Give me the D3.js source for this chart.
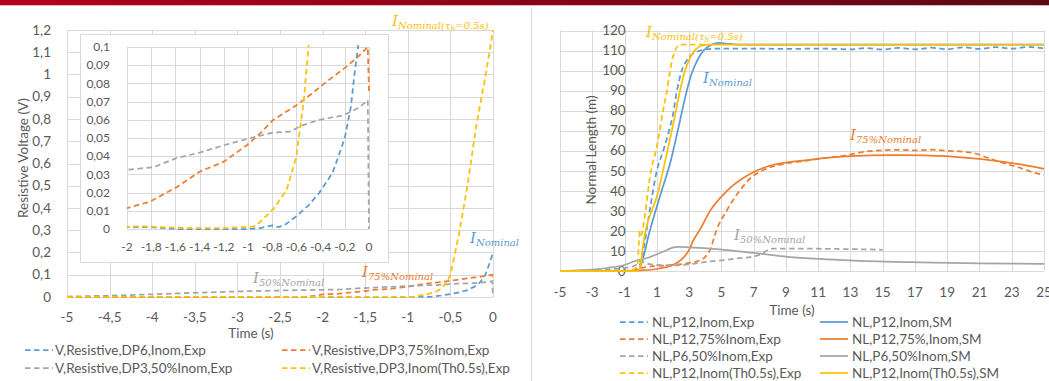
<!DOCTYPE html>
<html><head><meta charset="utf-8">
<script src="https://cdn.jsdelivr.net/npm/d3@7"></script>
<style>
body{margin:0;background:#fff;overflow:hidden;}
svg{display:block;font-family:Lato,"Open Sans",sans-serif;}
</style></head><body>
<svg id="c" width="1049" height="381"></svg>
<script>
// ---------------- DATA ----------------
// Left chart (resistive voltage), tick values
const leftXTicks = [-5,-4.5,-4,-3.5,-3,-2.5,-2,-1.5,-1,-0.5,0];
const leftYTicks = [0,0.1,0.2,0.3,0.4,0.5,0.6,0.7,0.8,0.9,1,1.1,1.2];
const insetXTicks = [-2,-1.8,-1.6,-1.4,-1.2,-1,-0.8,-0.6,-0.4,-0.2,0];
const insetYTicks = [0,0.01,0.02,0.03,0.04,0.05,0.06,0.07,0.08,0.09,0.1];
const leftNames = ["V,Resistive,DP6,Inom,Exp","V,Resistive,DP3,75%Inom,Exp","V,Resistive,DP3,50%Inom,Exp","V,Resistive,DP3,Inom(Th0.5s),Exp"];
// [time s, voltage V]
const vDP6Inom = [[-5,0],[-4,0],[-3,0],[-2,0.001],[-1.8,0.001],[-1.6,0],[-1,0],[-0.9,0.0005],[-0.8,0.002],[-0.75,0.001],[-0.7,0.002],[-0.6,0.007],[-0.5,0.013],[-0.41,0.02],[-0.3,0.031],[-0.2,0.05],[-0.15,0.067],[-0.12,0.085],[-0.09,0.1],[-0.035,0.157],[0,0.2]];
const vDP3_75 = [[-5,0],[-3,0],[-2.2,0],[-2.1,0.005],[-2,0.0115],[-1.81,0.015],[-1.59,0.023],[-1.4,0.0315],[-1.2,0.037],[-1.01,0.046],[-0.9,0.0525],[-0.79,0.06],[-0.6,0.068],[-0.46,0.075],[-0.35,0.081],[-0.21,0.088],[-0.1,0.094],[-0.01,0.1],[0,0.075]];
const vDP3_50 = [[-5,0.002],[-4.5,0.006],[-4,0.012],[-3.5,0.019],[-3,0.025],[-2.5,0.029],[-2,0.0325],[-1.78,0.034],[-1.59,0.039],[-1.4,0.042],[-1.2,0.046],[-0.98,0.05],[-0.79,0.053],[-0.65,0.0535],[-0.57,0.0565],[-0.41,0.06],[-0.21,0.0625],[-0.08,0.0668],[-0.01,0.0708],[0,0]];
const vDP3_Th = [[-5,0],[-2,0.001],[-1.9,0.0015],[-1.5,0.0005],[-1.2,0.0005],[-1.05,0.001],[-0.98,0.001],[-0.93,0.002],[-0.79,0.011],[-0.68,0.0215],[-0.6,0.04],[-0.54,0.07],[-0.5,0.1],[-0.45,0.19],[-0.4,0.28],[-0.3,0.5],[-0.2,0.76],[-0.1,0.97],[-0.05,1.08],[0,1.2]];

// Right chart (normal length)
const rightXTicks = [-5,-3,-1,1,3,5,7,9,11,13,15,17,19,21,23,25];
const rightYTicks = [0,10,20,30,40,50,60,70,80,90,100,110,120];
const rightNames = ["NL,P12,Inom,Exp","NL,P12,Inom,SM","NL,P12,75%Inom,Exp","NL,P12,75%,Inom,SM","NL,P6,50%Inom,Exp","NL,P6,50%Inom,SM","NL,P12,Inom(Th0.5s),Exp","NL,P12,Inom(Th0.5s),SM"];
// [time s, length m]
const nlInomExp = [[-5,0],[-2,0],[-1,0.2],[-0.3,1],[0,4],[0.2,12],[0.6,32],[1.0,50],[1.4,60],[1.76,70],[2.0,78],[2.25,90],[2.55,100],[2.85,105],[3.1,107.5],[3.5,109.5],[4,110.5],[5,111],[7,111],[9,110.8],[11,111],[13,110.6],[14,111.2],[15,110.5],[16,111.3],[17,110.6],[18,111.4],[19,110.7],[20,111.6],[21,110.8],[22,111.7],[23,110.9],[24,111.8],[25,111]];
const nlInomSM = [[-5,0],[-1,0],[-0.15,0.3],[0.1,5],[0.5,18],[1.3,40],[1.8,53],[2.3,70],[2.8,88],[3.1,97],[3.5,105],[3.9,110],[4.3,112.5],[4.8,113.8],[5.3,113.5],[6,113],[25,113]];
const nl75Exp = [[-5,0],[-1,0],[-0.4,0.5],[0,1.5],[0.4,2],[1,2.5],[2,3],[3,4],[3.7,5.4],[4.0,7],[4.3,10.5],[4.7,20.4],[5.35,30.4],[6.16,40.3],[6.9,47],[7.5,50],[8.6,53],[10,54.8],[11.1,56],[12.8,57.8],[13.8,59.4],[14.5,60],[16,60.5],[17,60.2],[18,60.5],[19,60],[20,59.5],[20.8,58.5],[21.5,56.5],[22.5,53.8],[23.5,51.5],[24.5,48.8],[25,48]];
const nl75SM = [[-5,0],[-1,0],[0,0.3],[1,1],[1.5,1.8],[2,3],[2.5,5.5],[3,10.5],[3.25,15],[3.7,21],[4.3,30],[5.35,40],[6.8,48.5],[8,52.5],[10.5,55.5],[13,57.3],[15.5,57.8],[17.5,57.7],[19.5,57],[22.5,54.5],[25,51]];
const nl50Exp = [[-5,0],[-3,0.5],[-1,1.5],[-0.3,3],[0,5],[0.3,4],[1,3],[2,2.8],[3,3.3],[4.1,4.6],[5,5.3],[6,6.3],[7,7.3],[7.5,8.5],[7.9,10.5],[8.2,11.2],[10,11.2],[12,11],[14,10.8],[15,10.6]];
const nl50SM = [[-5,0],[-3.5,0.4],[-2.1,1.5],[-1,3],[-0.47,4.6],[0.58,7],[1.2,9],[1.63,10.5],[2,11.7],[2.25,12],[3,11.8],[4.9,10.8],[7,9],[9.1,7.1],[11.1,6],[13.2,5.2],[17.3,4.3],[21,3.8],[25,3.5]];
const nlThExp = [[-5,0],[-1,0],[-0.5,0.5],[-0.2,3],[-0.1,15],[-0.05,20],[0.05,18],[0.15,22],[0.64,50],[1.0,62],[1.39,80],[1.63,90],[1.82,100],[2.13,110],[2.44,113],[4,113]];
const nlThSM = [[-5,0],[-1,0],[-0.2,0],[0,3],[0.1,10],[1.1,40],[1.93,70],[2.75,100],[3.1,107],[3.4,110.5],[3.8,112.5],[4.2,113],[25,113]];

// ---------------- STYLE ----------------
const C = {blue:"#5B9BD5", orange:"#ED7D31", gray:"#A5A5A5", yellow:"#FFC000", grid:"#D9D9D9", text:"#595959"};
const DASH = "5.5,3.5";
const FS = "13.5px";
const fmt = d3.formatLocale({decimal:",",thousands:".",grouping:[3],currency:["","€"],minus:"-"}).format("~g");

const svg = d3.select("#c");
// header bar
const defs = svg.append("defs");
const g1 = defs.append("linearGradient").attr("id","hdr");
g1.append("stop").attr("offset","0%").attr("stop-color","#B5001C");
g1.append("stop").attr("offset","100%").attr("stop-color","#5A0A14");
svg.append("rect").attr("x",0).attr("y",0).attr("width",1049).attr("height",5).attr("fill","url(#hdr)");
svg.append("line").attr("x1",0).attr("x2",1049).attr("y1",5.5).attr("y2",5.5).attr("stroke","#E2B3B9").attr("stroke-width",1);
svg.append("line").attr("x1",531.5).attr("x2",531.5).attr("y1",7).attr("y2",381).attr("stroke",C.grid);

function clip(id,x,y,w,h){defs.append("clipPath").attr("id",id).append("rect").attr("x",x).attr("y",y).attr("width",w).attr("height",h);}

function grid(g, x, y, xt, yt){
  g.append("g").selectAll("line").data(xt).join("line")
    .attr("x1",d=>Math.round(x(d))+0.5).attr("x2",d=>Math.round(x(d))+0.5)
    .attr("y1",y.range()[0]).attr("y2",y.range()[1]).attr("stroke",C.grid);
  g.append("g").selectAll("line").data(yt).join("line")
    .attr("y1",d=>Math.round(y(d))+0.5).attr("y2",d=>Math.round(y(d))+0.5)
    .attr("x1",x.range()[0]).attr("x2",x.range()[1]).attr("stroke",C.grid);
}

function annot(g, x, y, color, main, sub, subsub, rest){
  const t = g.append("text").attr("x",x).attr("y",y).attr("fill",color)
    .style("font-family","'DejaVu Serif',serif").style("font-style","italic");
  t.append("tspan").style("font-size","15px").text(main);
  t.append("tspan").style("font-size","10px").attr("dy",3).text(sub);
  if(subsub){
    t.append("tspan").style("font-size","7.5px").attr("dy",2).text(subsub);
    t.append("tspan").style("font-size","10px").attr("dy",-2).text(rest);
  }
}

// ---------------- LEFT CHART ----------------
const L = {x0:67, x1:493, y0:297, y1:30};
const lx = d3.scaleLinear().domain([-5,0]).range([L.x0,L.x1]);
const ly = d3.scaleLinear().domain([0,1.2]).range([L.y0,L.y1]);
const lg = svg.append("g");
grid(lg, lx, ly, leftXTicks, leftYTicks);
lg.append("g").selectAll("text").data(leftYTicks).join("text")
  .attr("x",L.x0-16).attr("y",d=>ly(d)).attr("dy","0.35em").attr("text-anchor","end")
  .attr("fill",C.text).style("font-size",FS).text(d=>fmt(d));
lg.append("g").selectAll("text").data(leftXTicks).join("text")
  .attr("x",d=>lx(d)).attr("y",L.y0+20).attr("dy","0.35em").attr("text-anchor","middle")
  .attr("fill",C.text).style("font-size",FS).text(d=>fmt(d));
lg.append("text").attr("x",251).attr("y",333).attr("dy","0.35em").attr("text-anchor","middle")
  .attr("fill",C.text).style("font-size",FS).text("Time (s)");
lg.append("text").attr("transform","translate(23,158) rotate(-90)").attr("dy","0.35em").attr("text-anchor","middle")
  .attr("fill",C.text).style("font-size",FS).text("Resistive Voltage (V)");

const leftSeries = [vDP6Inom, vDP3_75, vDP3_50, vDP3_Th];
const leftColors = [C.blue, C.orange, C.gray, C.yellow];
clip("clipL", L.x0, L.y1-4, L.x1-L.x0+4, L.y0-L.y1+6);
const lineL = d3.line().x(d=>lx(d[0])).y(d=>ly(d[1]));
lg.append("g").attr("clip-path","url(#clipL)").selectAll("path").data(leftSeries).join("path")
  .attr("d",lineL).attr("fill","none").attr("stroke",(d,i)=>leftColors[i]).attr("stroke-width",1.75).attr("stroke-dasharray",DASH);

// inset
const I = {bx:80, by:34, bw:308, bh:228, x0:127, x1:369, y0:229, y1:47};
lg.append("rect").attr("x",I.bx+0.5).attr("y",I.by+0.5).attr("width",I.bw).attr("height",I.bh).attr("fill","#fff").attr("stroke",C.grid);
const ix = d3.scaleLinear().domain([-2,0]).range([I.x0,I.x1]);
const iy = d3.scaleLinear().domain([0,0.1]).range([I.y0,I.y1]);
const ig = lg.append("g");
grid(ig, ix, iy, insetXTicks, insetYTicks);
ig.append("g").selectAll("text").data(insetYTicks).join("text")
  .attr("x",I.x0-17).attr("y",d=>iy(d)).attr("dy","0.35em").attr("text-anchor","end")
  .attr("fill",C.text).style("font-size","12px").text(d=>fmt(d));
ig.append("g").selectAll("text").data(insetXTicks).join("text")
  .attr("x",d=>ix(d)).attr("y",I.y0+18).attr("dy","0.35em").attr("text-anchor","middle")
  .attr("fill",C.text).style("font-size","12px").text(d=>fmt(d));
clip("clipI", I.x0, I.y1-2, I.x1-I.x0+2, I.y0-I.y1+3);
const lineI = d3.line().x(d=>ix(d[0])).y(d=>iy(d[1]));
ig.append("g").attr("clip-path","url(#clipI)").selectAll("path").data(leftSeries).join("path")
  .attr("d",lineI).attr("fill","none").attr("stroke",(d,i)=>leftColors[i]).attr("stroke-width",1.75).attr("stroke-dasharray",DASH);

// left legend
const leftLegPos = [[25,350],[282,350],[25,368],[282,368]];
leftNames.forEach((n,i)=>{
  const [px,py] = leftLegPos[i];
  lg.append("line").attr("x1",px).attr("x2",px+28).attr("y1",py).attr("y2",py).attr("stroke",leftColors[i]).attr("stroke-width",1.75).attr("stroke-dasharray",DASH);
  lg.append("text").attr("x",px+30).attr("y",py).attr("dy","0.35em").attr("fill",C.text).style("font-size",FS).text(n);
});
// left annotations
annot(lg, 392, 26, C.yellow, "I", "Nominal(τ", "h", "=0.5s)");
annot(lg, 470, 243, C.blue, "I", "Nominal");
annot(lg, 362, 277, C.orange, "I", "75%Nominal");
annot(lg, 253, 283, C.gray, "I", "50%Nominal");

// ---------------- RIGHT CHART ----------------
const R = {x0:560, x1:1044, y0:271, y1:30.5};
const rx = d3.scaleLinear().domain([-5,25]).range([R.x0,R.x1]);
const ry = d3.scaleLinear().domain([0,120]).range([R.y0,R.y1]);
const rg = svg.append("g");
grid(rg, rx, ry, rightXTicks, rightYTicks);
rg.append("g").selectAll("text").data(rightYTicks).join("text")
  .attr("x",rx(0)-15).attr("y",d=>ry(d)).attr("dy","0.35em").attr("text-anchor","end")
  .attr("fill",C.text).style("font-size",FS).text(d=>fmt(d));
rg.append("g").selectAll("text").data(rightXTicks).join("text")
  .attr("x",d=>rx(d)).attr("y",R.y0+21).attr("dy","0.35em").attr("text-anchor","middle")
  .attr("fill",C.text).style("font-size",FS).text(d=>fmt(d));
rg.append("text").attr("x",792).attr("y",310).attr("dy","0.35em").attr("text-anchor","middle")
  .attr("fill",C.text).style("font-size",FS).text("Time (s)");
rg.append("text").attr("transform","translate(591,150) rotate(-90)").attr("dy","0.35em").attr("text-anchor","middle")
  .attr("fill",C.text).style("font-size",FS).text("Normal Length (m)");

const rightSeries = [nlInomExp, nlInomSM, nl75Exp, nl75SM, nl50Exp, nl50SM, nlThExp, nlThSM];
const rightColors = [C.blue,C.blue,C.orange,C.orange,C.gray,C.gray,C.yellow,C.yellow];
const rightDashed = [true,false,true,false,true,false,true,false];
clip("clipR", R.x0, R.y1-4, R.x1-R.x0+6, R.y0-R.y1+6);
const lineR = d3.line().curve(d3.curveMonotoneX).x(d=>rx(d[0])).y(d=>ry(d[1]));
rg.append("g").attr("clip-path","url(#clipR)").selectAll("path").data(rightSeries).join("path")
  .attr("d",lineR).attr("fill","none").attr("stroke",(d,i)=>rightColors[i])
  .attr("stroke-width",1.75)
  .attr("stroke-dasharray",(d,i)=>rightDashed[i]?DASH:null);

const rLegRows = [322,339,356,373];
rightNames.forEach((n,i)=>{
  const px = i%2===0 ? 620 : 820, py = rLegRows[Math.floor(i/2)];
  rg.append("line").attr("x1",px).attr("x2",px+28).attr("y1",py).attr("y2",py).attr("stroke",rightColors[i]).attr("stroke-width",1.75).attr("stroke-dasharray",rightDashed[i]?DASH:null);
  rg.append("text").attr("x",px+32).attr("y",py).attr("dy","0.35em").attr("fill",C.text).style("font-size",FS).text(n);
});
annot(rg, 646, 37, C.yellow, "I", "Nominal(τ", "h", "=0.5s)");
annot(rg, 703, 83, C.blue, "I", "Nominal");
annot(rg, 850, 140, C.orange, "I", "75%Nominal");
annot(rg, 734, 240, C.gray, "I", "50%Nominal");
</script>
</body></html>
